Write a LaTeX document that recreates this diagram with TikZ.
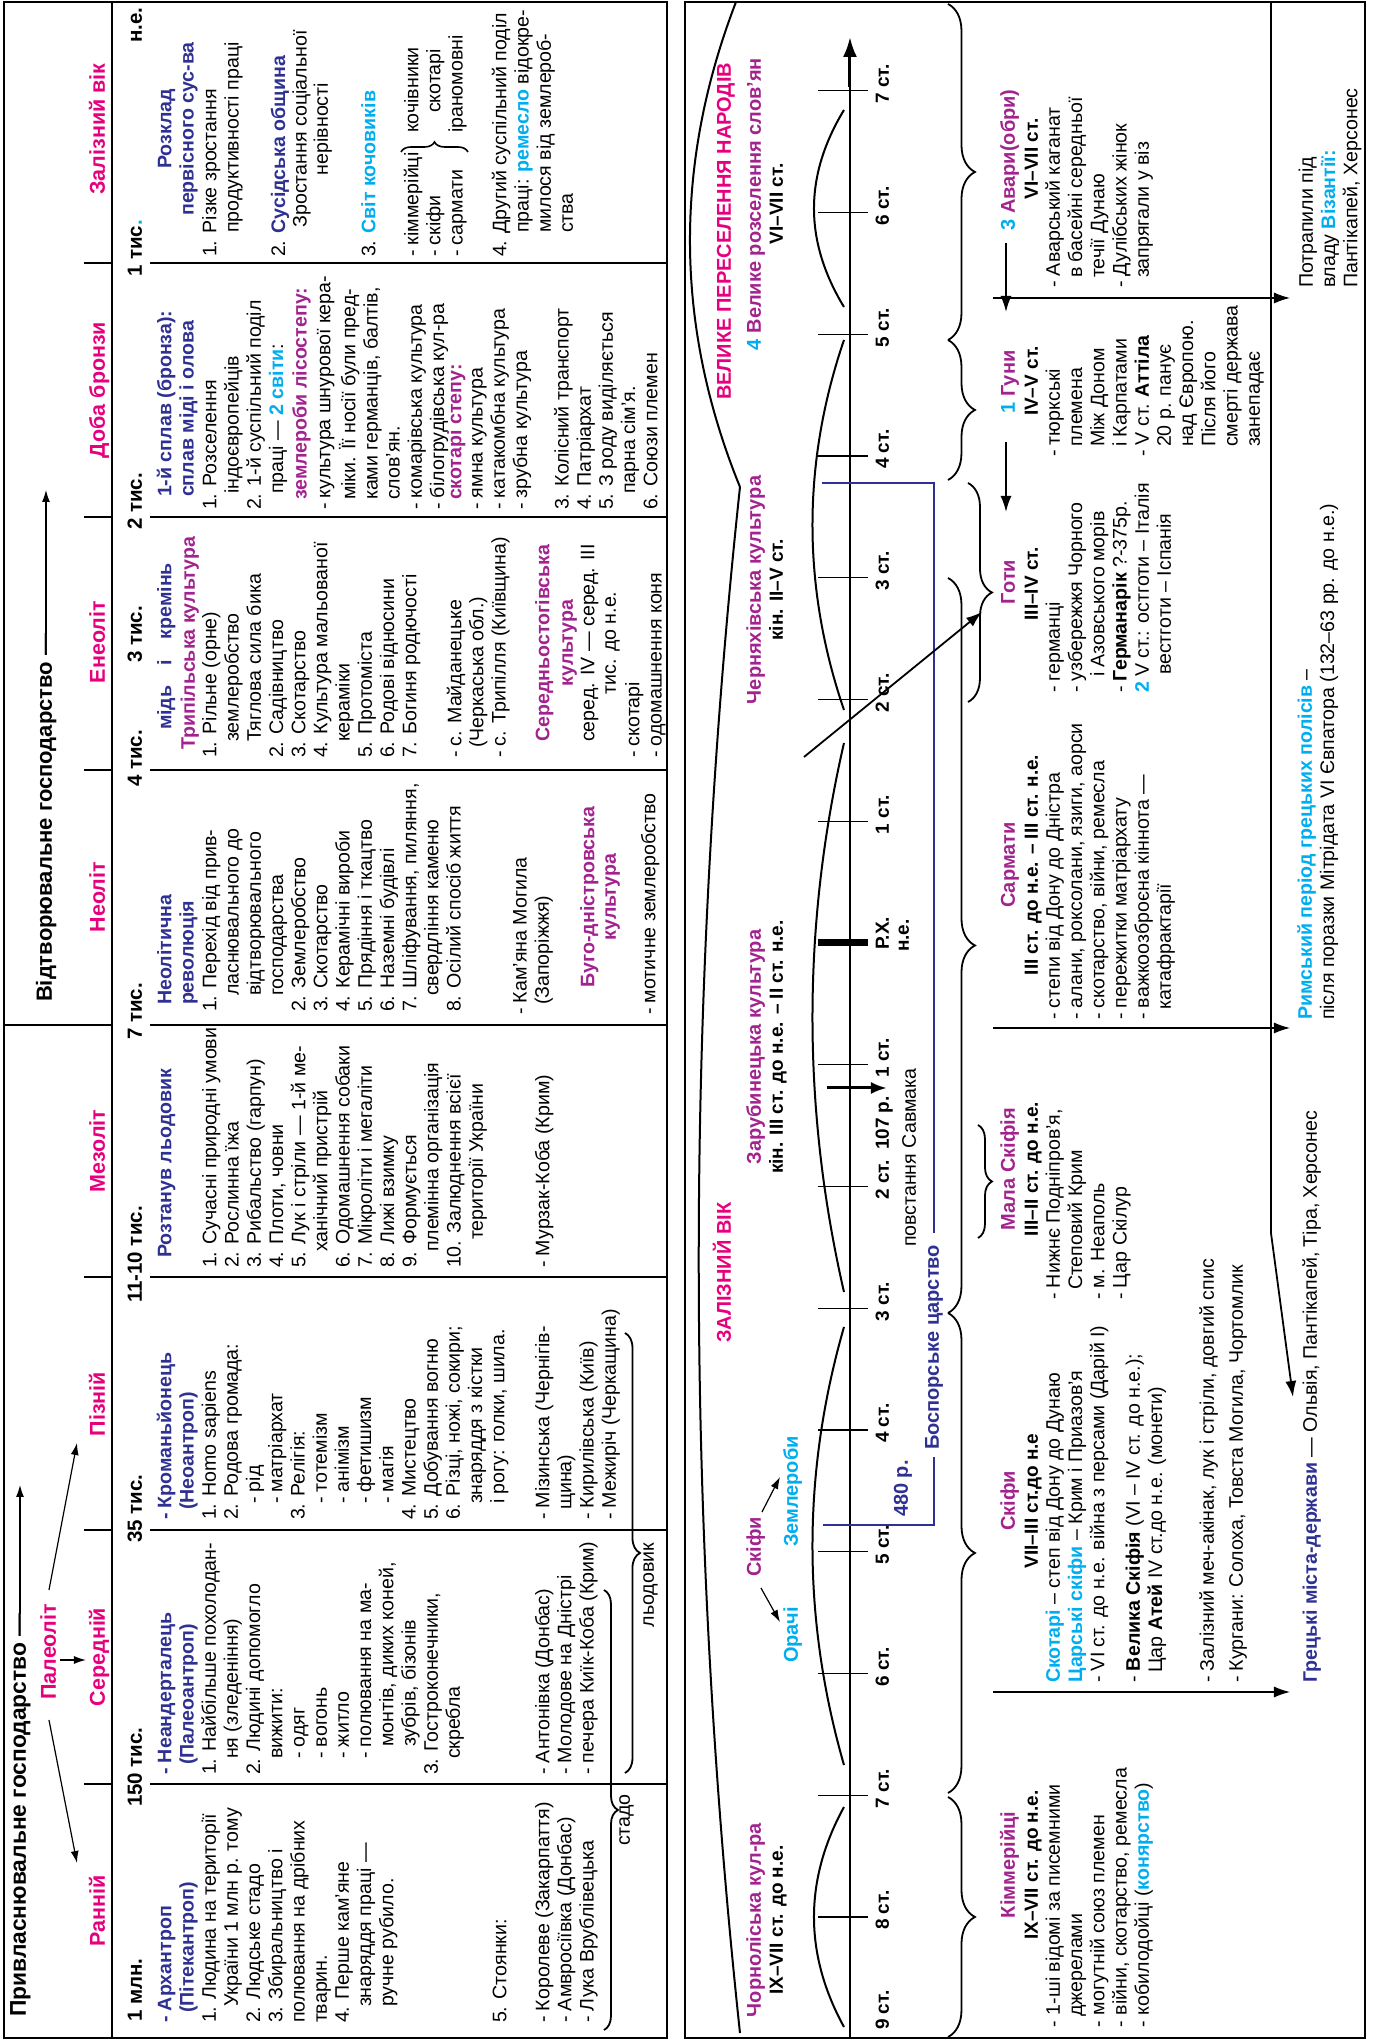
\documentclass[tikz,border=0pt]{standalone}
\usepackage{fontspec}
\setmainfont{Liberation Sans}
\usetikzlibrary{arrows.meta,decorations.pathreplacing}
\definecolor{pk}{HTML}{E6007E}
\definecolor{pu}{HTML}{A3238E}
\definecolor{bl}{HTML}{2E3192}
\definecolor{cy}{HTML}{00AEEF}
\newcommand{\fB}{\fontsize{9.8}{11.1}\selectfont}
\newcommand{\fH}{\fontsize{10.75}{12}\selectfont\bfseries}
\newcommand{\fD}{\fontsize{10.25}{12}\selectfont\bfseries}
\newcommand{\fT}{\fontsize{11}{13}\selectfont\bfseries}
\newcommand{\fTT}{\fontsize{11.4}{13}\selectfont\bfseries}
\newcommand{\fC}{\fontsize{10}{12}\selectfont\bfseries}
\newcommand{\fS}{\fontsize{9.5}{11}\selectfont\bfseries}
\newcommand{\zA}{\hspace*{8pt}}
\newcommand{\zB}{\hspace*{5pt}}
\newcommand{\zC}{\hspace*{14pt}}
\newcommand{\zD}{\hspace*{12pt}}
\newcommand{\kB}[1]{\textbf{\color{bl}#1}}
\newcommand{\kP}[1]{\textbf{\color{pu}#1}}
\newcommand{\kC}[1]{\textbf{\color{cy}#1}}
\newcommand{\TB}[5][]{\node[tx,#1] (#2) at (#3,{#4+15.54}) {\strut#5};}
\newcommand{\TL}[5][]{\node[tl,#1] (#2) at (#3,#4) {#5};}
\newcommand{\TC}[5][]{\node[tc,#1] (#2) at (#3,#4) {#5};}
\begin{document}
\begin{tikzpicture}[x=0.5pt,y=0.5pt,rotate=90,transform shape,
  tx/.style={anchor=north west,inner sep=0pt,outer sep=0pt,align=left,font=\fB},
  tl/.style={anchor=base west,inner sep=0pt,outer sep=0pt,font=\fB},
  tc/.style={anchor=base,inner sep=0pt,outer sep=0pt,font=\fB},
  fr/.style={line width=0.75pt},
  ln/.style={line width=0.55pt},
  arr/.style={line width=0.6pt,-{Latex[length=6pt,width=4pt]}},
  arrb/.style={line width=0.9pt,-{Latex[length=8pt,width=5.5pt]}},
  brc/.style={line width=0.9pt,decorate,decoration={brace,mirror,amplitude=#1}},
  brv/.style={line width=0.8pt,decorate,decoration={brace,amplitude=#1}}]
\useasboundingbox (0,0) rectangle (2042,1373);
% ================= TOP PANEL =================
\draw[fr] (4,706) rectangle (2040,1369);
\draw[ln] (4,1261) -- (2040,1261);
\foreach \xx in {258,512,765,1272,1525,1779}{
  \draw[ln] (\xx,1289) -- (\xx,1261);
  \draw[ln] (\xx,1223) -- (\xx,706);
}
\draw[ln] (1017,1369) -- (1017,1261);
\draw[ln] (1017,1223) -- (1017,706);
% titles
\TL[font=\fTT]{t1}{25}{1347}{Привласнювальне господарство —}
\TL[font=\fT]{t2}{1040}{1321}{Відтворювальне господарство —}
\coordinate (d1) at (0,1353);
\coordinate (d2) at (0,1327);
\coordinate (e1) at (557,1353);
\coordinate (e2) at (1552,1327);
\draw[arr] (t1.east |- d1) -- (e1);
\draw[arr] (t2.east |- d2) -- (e2);
\TC[font=\fH,text=pk]{pal}{390}{1317}{Палеоліт}
\foreach \xx/\tt [count=\i] in {131/Ранній,385/Середній,638/Пізній,891/Мезоліт,1145/Неоліт,1400/Енеоліт,1652/Доба бронзи,1913/Залізний вік}
  \node[tc,font=\fH,text=pk] (h\i) at (\xx,1268) {\tt};
\coordinate (p1) at (322,1324); \coordinate (q1) at (179,1296);
\coordinate (p2) at (382,1313); \coordinate (q2) at (382,1287);
\coordinate (p3) at (452,1324); \coordinate (q3) at (599,1296);
\draw[arr] (p1) -- (q1);
\draw[arr] (p2) -- (q2);
\draw[arr] (p3) -- (q3);
% dates
\foreach \xx/\tt [count=\i] in {20/1 млн.,235/150 тис.,499/35 тис.,739/11-10 тис.,1002/7 тис.,1255/4 тис.,1379/3 тис.,1512/2 тис.}
  \node[tl,font=\fD] (dt\i) at (\xx,1231) {\tt};
\node[tl,font=\fD] (dt9) at (1765,1231) {1 тис\textcolor{cy}{.}};
\node[anchor=base east,inner sep=0pt,font=\fD] (dt10) at (2035,1231) {н.е.};
% column 1
\TB{c1a}{19}{1201.6}{\kB{- Архантроп}\\\zB\kB{(Пітекантроп)}\\1. Людина на території\\\zA України 1 млн р. тому\\2. Людське стадо\\3. Збиральництво і\\полювання на дрібних\\тварин.\\4. Перше кам’яне\\\zA знаряддя праці —\\\zA ручне рубило.}
\TL{c1b}{19}{866.6}{5. Стоянки:}
\TB{c1c}{19}{823.7}{- Королеве (Закарпаття)\\- Амвросіївка (Донбас)\\- Лука Врублівецька}
% column 2
\TB{c2a}{267}{1201.6}{\kB{- Неандерталець}\\\zB\kB{(Палеоантроп)}\\1. Найбільше похолодан-\\\zA ня (зледеніння)\\2. Людині допомогло\\\zA вижити:\\\zA - одяг\\\zA - вогонь\\\zA - житло\\\zA - полювання на ма-\\\zC монтів, диких коней,\\\zC зубрів, бізонів\\3. Гостроконечники,\\\zA скребла}
\TB{c2b}{267}{823.7}{- Антонівка (Донбас)\\- Молодове на Дністрі\\- печера Киїк-Коба (Крим)}
% column 3
\TB{c3a}{522}{1201.6}{\kB{- Кроманьйонець}\\\zB\kB{(Неоантроп)}\\1. Homo sapiens\\2. Родова громада:\\\zA - рід\\\zA - матріархат\\3. Релігія:\\\zA - тотемізм\\\zA - анімізм\\\zA - фетишизм\\\zA - магія\\4. Мистецтво\\5. Добування вогню\\6. Різці, ножі, сокири;\\\zA знаряддя з кістки\\\zA і рогу: голки, шила.}
\TB{c3b}{522}{823.7}{- Мізинська (Чернігів-\\\zB щина)\\- Кирилівська (Київ)\\- Межиріч (Черкащина)}
% column 4
\TL{c4a}{784}{1201.6}{\kB{Розтанув льодовик}}
\TB{c4b}{774}{1156.5}{1. Сучасні природні умови\\2. Рослинна їжа\\3. Рибальство (гарпун)\\4. Плоти, човни\\5. Лук і стріли — 1-й ме-\\\zA ханічний пристрій\\6. Одомашнення собаки\\7. Мікроліти і мегаліти\\8. Лижі взимку\\9. Формується\\\zA племінна організація\\10. Залюднення всієї\\\zC території України}
\TL{c4c}{774}{823.7}{- Мурзак-Коба (Крим)}
% column 5
\TB{c5a}{1037}{1201.6}{\kB{Неолітична}\\\kB{революція}}
\TB{c5b}{1030}{1156.5}{1. Перехід від прив-\\\zA ласнювального до\\\zA відтворювального\\\zA господарства\\2. Землеробство\\3. Скотарство\\4. Керамічні вироби\\5. Прядіння і ткацтво\\6. Наземні будівлі\\7. Шліфування, пиляння,\\\zA свердління каменю\\8. Осілий спосіб життя}
\TB{c5c}{1027}{846.4}{- Кам’яна Могила\\\zB(Запоріжжя)}
\TC{c5d}{1145}{778.6}{\kP{Буго-дністровська}}
\TC{c5e}{1145}{757}{\kP{культура}}
\TL{c5f}{1027}{717.6}{- мотичне землеробство}
% column 6
\TL{c6a}{1312}{1201.6}{\kB{\makebox[83.5pt][s]{мідь і кремінь}}}
\TL{c6b}{1292}{1178}{\kP{Трипільська культура}}
\TB{c6c}{1284}{1156.5}{1. Рільне (орне)\\\zA землеробство\\\zA Тяглова сила бика\\2. Садівництво\\3. Скотарство\\4. Культура мальованої\\\zA кераміки\\5. Протоміста\\6. Родові відносини\\7. Богиня родючості}
\TB{c6d}{1284}{911.7}{- с. Майданецьке\\\zB(Черкаська обл.)\\- с. Трипілля (Київщина)}
\TC{c6e}{1399}{823.7}{\kP{Середньостогівська}}
\TC{c6f}{1399}{800}{\kP{культура}}
\TC{c6g}{1399}{778.6}{серед. IV — серед. III}
\TC{c6h}{1399}{757}{тис. до н.е.}
\TB{c6i}{1284}{733.5}{- скотарі\\- одомашнення коня}
% column 7
\TB{c7a}{1545}{1201.6}{\kB{1-й сплав (бронза):}\\\kB{сплав міді і олова}}
\TB{c7b}{1532}{1156.5}{1. Розселення\\\zA індоєвропейців\\2. 1-й суспільний поділ\\\zA праці — \kC{2 світи}:}
\TL{c7c}{1542}{1066.4}{\kP{землероби лісостепу:}}
\TB{c7d}{1532}{1042.7}{- культура шнурової кера-\\\zB міки. Її носії були пред-\\\zB ками германців, балтів,\\\zB слов’ян.\\- комарівська культура\\- білогрудівська кул-ра}
\TL{c7e}{1542}{911.7}{\kP{скотарі степу:}}
\TB{c7f}{1532}{890.3}{- ямна культура\\- катакомбна культура\\- зрубна культура}
\TB{c7g}{1532}{804.4}{3. Колісний транспорт\\4. Патріархат\\5. З роду виділяється\\\zA парна сім’я.\\6. Союзи племен}
% column 8
\TC{c8a}{1913}{1201.6}{\kB{Розклад}}
\TC{c8b}{1913}{1179.4}{\kB{первісного сус-ва}}
\TB{c8c}{1785}{1156.5}{1. Різке зростання\\\zD продуктивності праці}
\TL{c8d}{1785}{1087.8}{2. \kB{Сусідська община}}
\TC{c8e}{1913}{1066.4}{Зростання соціальної}
\TC{c8f}{1913}{1045}{нерівності}
\TL{c8g}{1785}{997.6}{3. \kC{Світ кочовиків}}
\TB{c8h}{1785}{954.7}{- кіммерійці\\- скіфи\\- сармати}
\TL{c8i}{1909}{954.7}{кочівники}
\TL{c8j}{1929}{932.5}{скотарі}
\TL{c8k}{1909}{910.3}{іраномовні}
\draw[brv=5pt] (1890,972) -- (1890,905);
\TB{c8l}{1785}{866.6}{4. Другий суспільний поділ\\\zD праці: \kC{ремесло} відокре-\\\zD милося від землероб-\\\zD ства}
% braces top
\draw[brc=7pt] (12,769) -- (452,769);
\TC{lst}{222}{743}{стадо}
\draw[brc=7.5pt] (269,748) -- (709,748);
\TC{llv}{457}{719}{льодовик}
% ================= BOTTOM PANEL =================
\draw[fr] (4,8) rectangle (2040,688);
\draw[line width=1pt] (9,633) .. controls (524,688) and (1040,688) .. (1555,633);
\draw[line width=1pt] (1555,633) .. controls (1717,699) and (1879,699) .. (2040,637);
\TL[font=\fC,text=pk]{zv}{699}{642}{ЗАЛІЗНИЙ ВІК}
\TL[font=\fC,text=pk]{vpn}{1642}{642}{ВЕЛИКЕ ПЕРЕСЕЛЕННЯ НАРОДІВ}
\TC[font=\fC,text=pu]{chl}{122}{612}{Чорноліська кул-ра}
\TC[font=\fS]{chld}{122}{590}{IX–VII ст. до н.е.}
\TL[font=\fC,text=pu]{skt}{465}{612}{Скіфи}
\TL[font=\fC,text=cy]{orh}{379}{575}{Орачі}
\TL[font=\fC,text=cy]{zem}{495}{575}{Землероби}
\coordinate (s1) at (454,612); \coordinate (s2) at (420,593);
\coordinate (s3) at (530,611); \coordinate (s4) at (565,593);
\draw[arr] (s1) -- (s2);
\draw[arr] (s3) -- (s4);
\TC[font=\fC,text=pu]{zar}{995}{612}{Зарубинецька культура}
\TC[font=\fS]{zard}{995}{590}{кін. III ст. до н.е. – II ст. н.е.}
\TC[font=\fC,text=pu]{chn}{1452}{612}{Черняхівська культура}
\TC[font=\fS]{chnd}{1452}{590}{кін. II–V ст.}
\TC[font=\fC,text=pu]{vrs}{1838}{612}{\textcolor{cy}{4} Велике розселення слов’ян}
\TC[font=\fS]{vrsd}{1838}{590}{VI–VII ст.}
% timeline
\draw[ln] (4,523) -- (1955,523);
\draw[line width=1.5pt,-{Latex[length=10pt,width=7pt]}] (1955,523) -- (2005,523);
\foreach \xx/\lab [count=\i] in {125/8,246.75/7,368.5/6,490.25/5,612/4,733.75/3,855.5/2,977.25/1,1220.75/1,1342.5/2,1464.25/3,1586/4,1707.75/5,1829.5/6,1951.25/7}{
  \draw[ln] (\xx,505) -- (\xx,555);
  \node[tl,font=\fS] (cen\i) at ({\xx-13},484) {\lab{} ст.};
}
\TL[font=\fS]{cen0}{12}{484}{9 ст.}
\draw[line width=3.5pt] (1099,505) -- (1099,555);
\TL[font=\fS]{rx1}{1092}{484}{Р.Х.}
\TL[font=\fS]{rx2}{1090}{464}{н.е.}
\TL[font=\fS]{y107}{892}{484}{107 р.}
\coordinate (w1) at (954,546); \coordinate (w2) at (954,486);
\draw[line width=1.5pt,-{Latex[length=8pt,width=6pt]}] (w1) -- (w2);
\TL{sav}{795}{457}{повстання Савмака}
% lens arcs
\draw[line width=1pt] (15,529) .. controls (88,569) and (162,569) .. (235,529);
\draw[line width=1pt] (277,529) .. controls (423,571) and (569,571) .. (715,529);
\draw[line width=1pt] (750,529) .. controls (933,571) and (1116,571) .. (1299,529);
\draw[line width=1pt] (1332,529) .. controls (1455,571) and (1579,571) .. (1702,529);
\draw[line width=1pt] (1735,529) .. controls (1801,569) and (1866,569) .. (1932,529);
% Bosporan kingdom
\draw[bl,line width=0.8pt] (517,550) -- (517,439) -- (585,439);
\draw[bl,line width=0.8pt] (809,439) -- (1559,439) -- (1559,551);
\TL[font=\fC,text=bl]{bos}{592}{434}{Боспорське царство}
\TL[font=\fC,text=bl]{y480}{525}{465}{480 р.}
% braces bottom
\draw[brc=13.5pt] (5,425) -- (245,425);
\draw[brc=13.5pt] (249,425) -- (729,425);
\draw[brc=13.5pt] (729,425) -- (1464,425);
\draw[brc=12pt] (1340,405) -- (1559,405);
\draw[brc=13.5pt] (1562,425) -- (1702,425);
\draw[brc=13.5pt] (1702,425) -- (2038,425);
\draw[brc=7pt] (804,395) -- (917,395);
% Kimmerians
\TC[font=\fC,text=pu]{kim}{177}{358}{Кіммерійці}
\TC[font=\fS]{kimd}{177}{335}{IX–VII ст. до н.е.}
\TB{kimt}{15}{313}{- 1-ші відомі за писемними\\\zB джерелами\\- могутній союз племен\\- війни, скотарство, ремесла\\- кобилодойці (\kC{конярство})}
% Scythians
\TC[font=\fC,text=pu]{ski}{541}{358}{Скіфи}
\TC[font=\fS]{skid}{541}{335}{VII–III ст.до н.е}
\TB{skit}{359}{313}{\kC{Скотарі} – степ від Дону до Дунаю\\\kC{Царські скіфи} – Крим і Приазов’я\\- VI ст. до н.е. війна з персами (Дарій I)}
\TB{skiu}{359}{233}{- \textbf{Велика Скіфія} (VI – IV ст. до н.е.);\\\zB Цар \textbf{Атей} IV ст.до н.е. (монети)}
\TL{skiv}{359}{159}{- Залізний меч-акінак, лук і стріли, довгий спис}
\TL{skiw}{359}{130}{- Кургани: Солоха, Товста Могила, Чортомлик}
\TL{grk}{359}{56}{\kB{Грецькі міста-держави} — Ольвія, Пантікапей, Тіра, Херсонес}
% Lesser Scythia
\TC[font=\fC,text=pu]{msk}{873}{358}{Мала Скіфія}
\TC[font=\fS]{mskd}{873}{335}{III–II ст. до н.е.}
\TB{mskt}{742}{313}{- Нижнє Подніпров’я,\\\zB Степовий Крим\\- м. Неаполь\\- Цар Скілур}
% Sarmatians
\TC[font=\fC,text=pu]{sar}{1177}{358}{Сармати}
\TC[font=\fS]{sard}{1177}{335}{III ст. до н.е. – III ст. н.е.}
\TB{sart}{1022}{313}{- степи від Дону до Дністра\\- алани, роксолани, язиги, аорси\\- скотарство, війни, ремесла\\- пережитки матріархату\\- важкоозброєна кіннота —\\\zB катафрактарії}
\TB{rim}{1022}{61}{\kC{Римський період грецьких полісів} –\\після поразки Мітрідата VI Євпатора (132–63 рр. до н.е.)}
% Goths
\TC[font=\fC,text=pu]{got}{1460}{358}{Готи}
\TC[font=\fS]{gotd}{1458}{335}{III–IV ст.}
\TB{gott}{1349}{313}{- германці\\- узбережжя Чорного\\\zA і Азовського морів\\- \textbf{Германарік} ?-375р.\\\kC{2} V ст.: остготи – Італія\\\zA\hspace*{1pt}вестготи – Іспанія}
% Huns
\TC[font=\fC]{hun}{1660}{358}{\textcolor{cy}{1} \textcolor{pu}{Гуни}}
\TC[font=\fS]{hund}{1661}{335}{IV–V ст.}
\TB{hunt}{1585}{313}{- тюркські\\\zB племена\\\zB Між Доном\\\zB і Карпатами\\- V ст. \textbf{Аттіла}\\\zB 20 р. панує\\\zB над Європою.\\\zB Після його\\\zB смерті держава\\\zB занепадає}
% Avars
\TC[font=\fC]{avr}{1882}{358}{\textcolor{cy}{3} \textcolor{pu}{Авари(обри)}}
\TC[font=\fS]{avrd}{1883}{335}{VI–VII ст.}
\TB{avrt}{1754}{313}{- Аварський каганат\\\zB в басейні середньої\\\zB течії Дунаю\\- Дулібських жінок\\\zB запрягали у віз}
\TB{pot}{1754}{60}{Потрапили під\\владу \kC{Візантії:}\\Пантікапей, Херсонес}
% arrows bottom
\coordinate (v1) at (1799,367); \coordinate (v2) at (1730,367);
\coordinate (v3) at (1600,367); \coordinate (v4) at (1530,367);
\draw[arrb] (v1) -- (v2);
\draw[arrb] (v3) -- (v4);
\coordinate (g1) at (1285,569); \coordinate (g2) at (1430,391);
\draw[arrb] (g1) -- (g2);
\foreach \xx in {350,1014,1744}
  \draw[line width=0.6pt,-{Latex[length=8pt,width=5.5pt]}] (\xx,380) -- (\xx,83);
\coordinate (m1) at (2040,102); \coordinate (m2) at (809,102); \coordinate (m3) at (645,80);
\draw[line width=0.9pt,-{Latex[length=8pt,width=5.5pt]}] (m1) -- (m2) -- (m3);
\end{tikzpicture}
\end{document}
